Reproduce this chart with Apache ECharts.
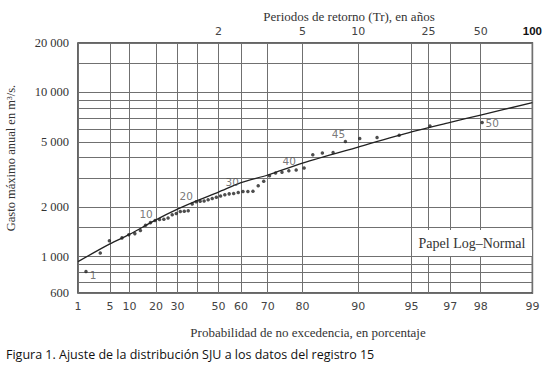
<!DOCTYPE html>
<html><head><meta charset="utf-8">
<script src="https://cdn.jsdelivr.net/npm/echarts@6/dist/echarts.min.js"></script>
<style>html,body{margin:0;padding:0;background:#fff}#c{width:545px;height:367px}</style>
</head><body><div id="c"></div>
<script>
// ---- data ----
// plotting positions (probability of non-exceedance, %) of the 50 ranked annual maxima
const pointProb = [1.6, 3.3, 4.9, 7.84, 9.80, 11.76, 13.73, 15.69, 17.65, 19.61,
  21.57, 23.53, 25.49, 27.45, 29.41, 31.37, 33.33, 35.29, 37.25, 39.22,
  41.18, 43.14, 45.10, 47.06, 49.02, 50.98, 52.94, 54.90, 56.86, 58.82,
  60.78, 62.75, 64.71, 66.67, 68.63, 70.59, 72.55, 74.51, 76.47, 78.43,
  80.39, 82.35, 84.31, 86.27, 88.24, 90.20, 92.16, 94.12, 96.08, 98.04];
// annual maximum discharge, m3/s
const pointFlow = [810, 1050, 1250, 1300, 1360, 1380, 1440, 1550, 1610, 1660,
  1680, 1690, 1720, 1800, 1830, 1880, 1890, 1900, 2090, 2160,
  2170, 2180, 2220, 2260, 2300, 2340, 2380, 2410, 2420, 2460,
  2490, 2490, 2500, 2700, 2880, 3110, 3230, 3260, 3330, 3370,
  3460, 4170, 4270, 4310, 5020, 5240, 5310, 5490, 6250, 6550];
const labelledRanks = [1, 10, 20, 30, 40, 45, 50];
// fitted SJU distribution
const fitProb = [1, 5, 10, 20, 30, 40, 50, 60, 70, 80, 90, 95, 97, 98, 99];
const fitFlow = [932, 1194, 1364, 1675, 1945, 2200, 2470, 2820, 3140, 3711, 4650, 5750, 6570, 7280, 8660];
// axes
const probLabels = [1, 5, 10, 20, 30, 50, 60, 70, 80, 90, 95, 97, 98, 99];
const probGrid = [1, 5, 10, 20, 30, 40, 50, 60, 70, 80, 90, 95, 96, 97, 98, 99];
const returnPeriods = [2, 5, 10, 25, 50, 100];
const flowLabels = [600, 1000, 2000, 5000, 10000, 20000];
const flowGrid = [600, 700, 800, 900, 1000, 1500, 2000, 3000, 4000, 5000, 6000, 7000, 8000, 9000, 10000, 15000, 20000];

// ---- scales (probability paper: reduced variate; log10 flow) ----
const gum = p => -Math.log(-Math.log(p / 100));
const invGum = g => 100 * Math.exp(-Math.exp(-g));
const lg = v => Math.log10(v);
const fmtThousands = v => String(v).replace(/\B(?=(\d{3})+(?!\d))/g, ' ');

const labelOffsets = {1: [7, 3], 10: [-9, -6], 20: [-10, -6], 30: [-6, -10], 40: [-7, -9], 45: [-7, -8], 50: [10, 0]};

const serif = '"Liberation Serif", "DejaVu Serif", serif';
const lettering = '"DejaVu Sans", sans-serif';

const scatterData = pointProb.map((p, i) => {
  const rank = i + 1;
  const item = { value: [gum(p), lg(pointFlow[i])] };
  if (labelledRanks.indexOf(rank) >= 0) {
    item.label = { show: true, formatter: String(rank), position: 'inside', offset: labelOffsets[rank],
      color: '#555', fontFamily: lettering, fontSize: 10.5 };
  }
  return item;
});
const fitData = fitProb.map((p, i) => [gum(p), lg(fitFlow[i])]);

const chart = echarts.init(document.getElementById('c'), null, { renderer: 'svg' });
chart.setOption({
  animation: false,
  backgroundColor: '#fff',
  grid: { left: 78, right: 12, top: 43, bottom: 74, show: true, borderColor: '#333', borderWidth: 1.5, backgroundColor: 'transparent' },
  xAxis: [{
    type: 'value', position: 'bottom',
    min: gum(1), max: gum(99),
    axisLine: { show: false },
    axisTick: { show: false, customValues: probGrid.map(gum) },
    splitLine: { show: true, lineStyle: { color: '#707070', width: 1 } },
    axisLabel: {
      customValues: probLabels.map(gum), showMinLabel: true, showMaxLabel: true,
      margin: 8, fontFamily: lettering, fontSize: 11, color: '#444',
      formatter: v => String(Math.round(invGum(v)))
    }
  }, {
    type: 'value', position: 'top',
    min: gum(1), max: gum(99),
    axisLine: { show: false },
    axisTick: { show: false, customValues: returnPeriods.map(T => gum(100 * (1 - 1 / T))) },
    splitLine: { show: false },
    axisLabel: {
      customValues: returnPeriods.map(T => gum(100 * (1 - 1 / T))), showMinLabel: true, showMaxLabel: true,
      margin: 6, fontFamily: lettering, fontSize: 11, color: '#444',
      formatter: v => {
        const T = Math.round(1 / (1 - invGum(v) / 100));
        return T === 100 ? '{b|100}' : String(T);
      },
      rich: { b: { fontFamily: '"Liberation Sans", Arial, sans-serif', fontWeight: 'bold', fontSize: 11.5, color: '#111' } }
    }
  }],
  yAxis: {
    type: 'value',
    min: lg(600), max: lg(20000),
    axisLine: { show: false },
    axisTick: { show: false, customValues: flowGrid.map(lg) },
    splitLine: { show: true, lineStyle: { color: '#707070', width: 1 } },
    axisLabel: {
      customValues: flowLabels.map(lg), showMinLabel: true, showMaxLabel: true,
      margin: 9, fontFamily: serif, fontSize: 12.5, color: '#333',
      formatter: v => fmtThousands(Math.round(Math.pow(10, v)))
    }
  },
  series: [{
    type: 'line', xAxisIndex: 0, data: fitData, smooth: 0.3, symbol: 'none',
    lineStyle: { color: '#222', width: 1.3 }, z: 3
  }, {
    type: 'scatter', xAxisIndex: 0, data: scatterData, symbol: 'circle', symbolSize: 3.5,
    itemStyle: { color: '#222' }, z: 4,
    label: { show: false, fontFamily: lettering, fontSize: 10.5, color: '#555' }
  }],
  graphic: [
    { type: 'text', x: 349, y: 16, style: { text: 'Periodos de retorno (Tr), en años', font: '13px ' + serif, fill: '#333', textAlign: 'center', textVerticalAlign: 'middle' } },
    { type: 'text', x: 11, y: 158, rotation: Math.PI / 2, style: { text: 'Gasto máximo anual en m³/s.', font: '12.5px ' + serif, fill: '#333', textAlign: 'center', textVerticalAlign: 'middle' } },
    { type: 'text', x: 308, y: 332, style: { text: 'Probabilidad de no excedencia, en porcentaje', font: '13px ' + serif, fill: '#333', textAlign: 'center', textVerticalAlign: 'middle' } },
    { type: 'rect', shape: { x: 414, y: 230, width: 118, height: 26 }, style: { fill: '#fff' }, z: 10 },
    { type: 'text', x: 472, y: 243, z: 11, style: { text: 'Papel Log–Normal', font: '14px ' + serif, fill: '#333', textAlign: 'center', textVerticalAlign: 'middle' } },
    { type: 'text', x: 6, y: 354, style: { text: 'Figura 1. Ajuste de la distribución SJU a los datos del registro 15', font: '12.5px "Open Sans", "Noto Sans", sans-serif', fill: '#111', textAlign: 'left', textVerticalAlign: 'middle' } }
  ]
});
</script>
</body></html>
